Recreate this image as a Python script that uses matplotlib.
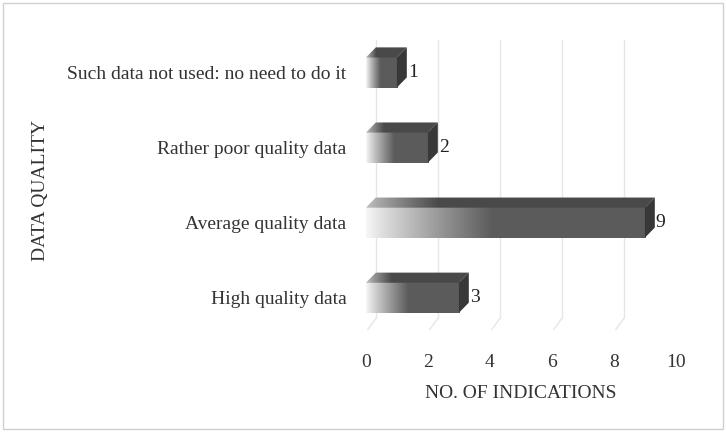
import numpy as np
import matplotlib.pyplot as plt
from matplotlib.patches import Polygon, Rectangle

categories = ["High quality data", "Average quality data",
              "Rather poor quality data", "Such data not used: no need to do it"]
counts = [3, 9, 2, 1]
xticks = [0, 2, 4, 6, 8, 10]

plt.rcParams['font.family'] = ['Liberation Serif', 'DejaVu Serif']

fig = plt.figure(figsize=(7.26, 4.32), dpi=100)
fig.patches.append(Rectangle((0.004, 0.007), 0.992, 0.986, transform=fig.transFigure,
                             fill=False, edgecolor='#d0d0d0', linewidth=1))
ax = fig.add_axes([0.504, 0.236, 0.427, 0.683])
ax.set_xlim(0, 10)
ax.set_ylim(-0.43, 3.5)
for s in ax.spines.values():
    s.set_visible(False)

dx = 0.32   # depth offset in x units
dy = 0.135  # depth offset in y units
h = 0.40    # bar front face height

# gridlines on the back wall + floor diagonals
for k in xticks:
    ax.plot([k + dx, k + dx], [-0.43 + dy + 0.02, 3.43], color='#e6e6e6', lw=1, zorder=0)
    ax.plot([k + 0.05, k + dx], [-0.43 + 0.0, -0.43 + dy + 0.02], color='#e6e6e6', lw=1, zorder=0)

light = np.array([0.97, 0.97, 0.97])
dark = np.array([0.36, 0.36, 0.36])


def grad(n=200, stop=0.45, c0=light, c1=dark):
    t = np.linspace(0, 1, n)
    f = np.clip(t / stop, 0, 1) ** 0.9
    row = c0[None, :] * (1 - f[:, None]) + c1[None, :] * f[:, None]
    return row[None, :, :]


for i, v in enumerate(counts):
    y0 = i - h / 2
    y1 = i + h / 2
    # front face
    ax.imshow(grad(), extent=[0, v, y0, y1], aspect='auto', zorder=3, interpolation='bilinear')
    # top face
    top = Polygon([(0, y1), (v, y1), (v + dx, y1 + dy), (dx, y1 + dy)], closed=True,
                  facecolor='none', edgecolor='none')
    ax.add_patch(top)
    im2 = ax.imshow(grad(c0=np.array([0.75, 0.75, 0.75]), c1=np.array([0.29, 0.29, 0.29]), stop=0.25),
                    extent=[0, v + dx, y1, y1 + dy], aspect='auto', zorder=3, interpolation='bilinear')
    im2.set_clip_path(top)
    # side face
    ax.add_patch(Polygon([(v, y0), (v + dx, y0 + dy), (v + dx, y1 + dy), (v, y1)], closed=True,
                         facecolor='#383838', edgecolor='none', zorder=3))
    ax.text(v + dx + 0.03, i, str(v), va='center', ha='left', fontsize=14, color='#222222')

ax.set_xticks(xticks)
ax.set_xticklabels([str(k) for k in xticks], fontsize=14, color='#333333')
ax.set_yticks(range(len(categories)))
ax.set_yticklabels(categories, fontsize=14, color='#333333')
ax.tick_params(length=0)
ax.tick_params(axis='x', pad=17)
ax.tick_params(axis='y', pad=14)
ax.set_xlabel("NO. OF INDICATIONS", fontsize=14, color='#333333', labelpad=10)
fig.text(0.056, 0.56, "DATA QUALITY", rotation=90, ha='center', va='center',
         fontsize=14, color='#333333')

fig.savefig("out.png", dpi=100)
